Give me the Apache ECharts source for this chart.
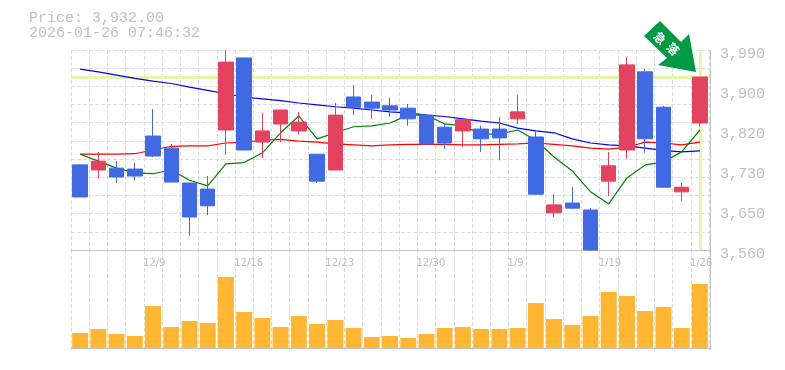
<!DOCTYPE html>
<html><head><meta charset="utf-8">
<style>html,body{margin:0;padding:0;background:#fff}#c{width:785px;height:370px}</style>
<script src="https://cdn.jsdelivr.net/npm/echarts@6/dist/echarts.min.js"></script>
</head><body><div id="c"></div>
<script>
const dates=['12/3','12/4','12/5','12/8','12/9','12/10','12/11','12/12','12/15','12/16','12/17','12/18','12/19','12/22','12/23','12/24','12/25','12/26','12/29','12/30','1/5','1/6','1/7','1/8','1/9','1/13','1/14','1/15','1/16','1/19','1/20','1/21','1/22','1/23','1/26'];
const labelledDates=['12/9','12/16','12/23','12/30','1/9','1/19','1/26'];
const opens=[3743,3732,3736,3734,3805,3779,3704,3691,3818,3973,3792,3831,3816,3766,3732,3889,3878,3870,3865,3850,3824,3816,3820,3820,3842,3803,3640,3661,3646,3708,3775,3943,3867,3685,3833];
const closes=[3674,3751,3717,3719,3762,3706,3631,3655,3964,3775,3816,3861,3835,3708,3850,3867,3865,3861,3842,3788,3790,3840,3799,3801,3857,3680,3657,3650,3560,3741,3958,3799,3695,3695,3932];
const lows=[3674,3713,3704,3710,3760,3706,3590,3635,3764,3775,3758,3792,3809,3704,3732,3850,3842,3846,3827,3788,3777,3781,3771,3753,3831,3680,3631,3648,3558,3676,3756,3769,3695,3665,3825];
const highs=[3743,3771,3751,3747,3863,3788,3704,3719,3990,3973,3855,3861,3857,3766,3876,3915,3893,3887,3874,3852,3831,3840,3827,3846,3893,3816,3680,3695,3650,3771,3975,3949,3870,3704,3932];
const volumes=[15,19,14,12,42,21,27,25,71,36,30,21,32,24,28,20,11,12,10,14,20,21,19,19,20,45,29,23,32,56,52,37,41,20,64];
const maRed=[3766,3766,3766,3767,3775,3783,3784,3784,3790,3792,3796,3798,3794,3792,3788,3786,3784,3786,3787,3787,3787,3786,3786,3787,3788,3790,3787,3784,3779,3777,3781,3792,3790,3786,3792];
const maBlue=[3949,3943,3936,3929,3923,3918,3910,3903,3896,3889,3885,3881,3876,3872,3868,3865,3861,3857,3855,3850,3847,3842,3837,3833,3822,3816,3812,3799,3790,3786,3784,3779,3774,3771,3773];
const maGreen=[3766,3751,3736,3726,3724,3732,3710,3698,3745,3748,3769,3812,3848,3799,3812,3825,3827,3833,3850,3850,3831,3827,3809,3809,3818,3796,3760,3730,3685,3659,3715,3743,3749,3771,3818];
const priceTicks=[3560,3646,3732,3818,3904,3990];
const priceText='Price: 3,932.00';
const timeText='2026-01-26 07:46:32';
const signalChars=['急','落'];

const candles=dates.map((d,i)=>[opens[i],closes[i],lows[i],highs[i]]);
const lastDate=dates[dates.length-1];
const lastClose=closes[closes.length-1];
const GRID='#dcdcdc', AXIS='#c4c4c4', TXT='#c0c0c0', MONO='"Liberation Mono",monospace';
const dash={color:GRID,type:[4,2],width:1};
const chart=echarts.init(document.getElementById('c'),null,{renderer:'canvas'});
chart.setOption({
  animation:false,
  backgroundColor:'#fff',
  title:{text:priceText+'\n'+timeText,left:29,top:11,padding:0,
    textStyle:{fontFamily:MONO,fontSize:15,fontWeight:'normal',color:TXT,lineHeight:15}},
  grid:[{left:71,top:50,width:638,height:200},{left:71,top:250,width:638,height:100}],
  xAxis:[
   {type:'category',gridIndex:0,data:dates,boundaryGap:true,
    axisLine:{show:true,lineStyle:{color:AXIS}},axisTick:{show:false},
    splitLine:{show:true,interval:0,lineStyle:dash},
    axisLabel:{interval:(i,v)=>labelledDates.includes(v),color:'#bdbdbd',fontFamily:'"DejaVu Sans"',fontSize:10,
      align:'left',margin:8,padding:[0,0,0,-10],hideOverlap:false}},
   {type:'category',gridIndex:1,data:dates,boundaryGap:true,
    axisLine:{show:true,lineStyle:{color:AXIS}},axisTick:{show:false},axisLabel:{show:false},
    splitLine:{show:true,interval:0,lineStyle:dash}}
  ],
  yAxis:[
   {type:'value',gridIndex:0,position:'right',offset:1,min:3560,max:3990,scale:true,
    axisLine:{show:true,lineStyle:{color:AXIS}},axisTick:{show:false},splitLine:{show:false},
    axisLabel:{customValues:priceTicks,color:TXT,fontFamily:MONO,fontSize:15,margin:10,
      verticalAlign:'top',padding:[-3,0,0,0],showMinLabel:true,showMaxLabel:true,
      formatter:v=>(Math.round(v/10)*10).toLocaleString('en-US')}},
   {type:'value',gridIndex:0,position:'left',min:0,max:11,interval:1,
    axisLine:{show:false},axisTick:{show:false},axisLabel:{show:false},splitLine:{show:true,lineStyle:dash}},
   {type:'value',gridIndex:1,position:'right',offset:1,min:-2,max:98,
    axisLine:{show:true,lineStyle:{color:AXIS}},axisTick:{show:false},axisLabel:{show:false},splitLine:{show:false}}
  ],
  series:[
   {type:'line',xAxisIndex:0,yAxisIndex:0,data:[],z:1,silent:true,
    markLine:{z:1,silent:true,symbol:'none',label:{show:false},animation:false,
      lineStyle:{color:'#e6f5aa',width:3,type:'solid'},
      data:[{yAxis:lastClose},{xAxis:lastDate}]}},
   {type:'line',xAxisIndex:0,yAxisIndex:0,data:maRed,showSymbol:false,z:3,lineStyle:{color:'#ff0000',width:1.2}},
   {type:'line',xAxisIndex:0,yAxisIndex:0,data:maBlue,showSymbol:false,z:3,lineStyle:{color:'#0000ff',width:1.2}},
   {type:'line',xAxisIndex:0,yAxisIndex:0,data:maGreen,showSymbol:false,z:3,lineStyle:{color:'#008000',width:1.2}},
   {type:'candlestick',xAxisIndex:0,yAxisIndex:0,data:candles,barWidth:15,z:4,
    itemStyle:{color:'#e2435f',color0:'#4169e1',borderColor:'#e2435f',borderColor0:'#4169e1',borderWidth:1}},
   {type:'bar',xAxisIndex:1,yAxisIndex:2,data:volumes,barWidth:16,itemStyle:{color:'#ffb733'}}
  ],
  graphic:[
   {type:'polygon',z:100,shape:{points:[[660,21],[644,36],[667,58],[658,65],[696,72],[689,34],[681,42]]},style:{fill:'#009a44'}},
   {type:'text',z:101,x:660,y:38,rotation:-Math.PI/4,style:{text:signalChars[0],fill:'#fff',font:'bold 12px "Noto Sans CJK JP"',align:'center',verticalAlign:'middle'}},
   {type:'text',z:101,x:673,y:49,rotation:-Math.PI/4,style:{text:signalChars[1],fill:'#fff',font:'bold 12px "Noto Sans CJK JP"',align:'center',verticalAlign:'middle'}}
  ]
});
</script></body></html>
